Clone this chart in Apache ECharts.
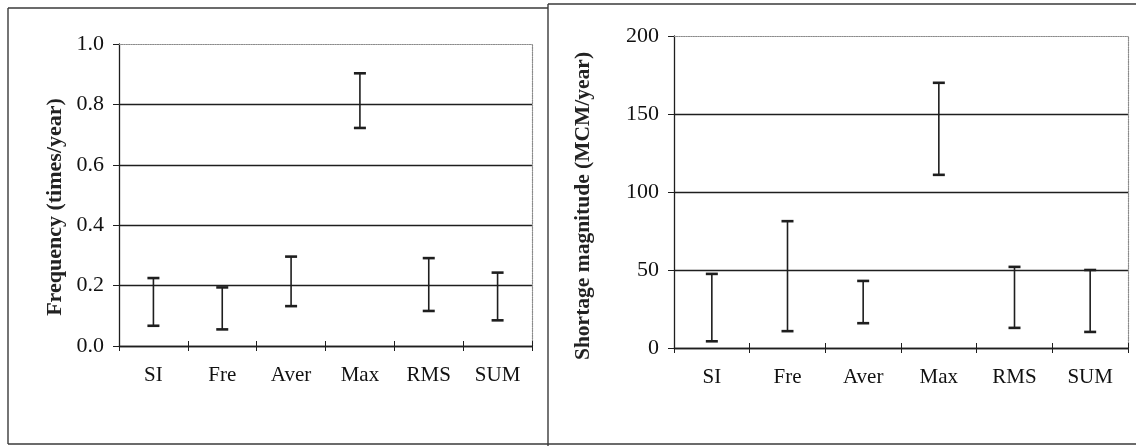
<!DOCTYPE html>
<html>
<head>
<meta charset="utf-8">
<script src="https://cdn.jsdelivr.net/npm/echarts@6/dist/echarts.min.js"></script>
<style>html,body{margin:0;padding:0;background:#fff;}#c{width:1136px;height:446px;}</style>
</head>
<body>
<div id="c"></div>
<script>
var categories = ['SI', 'Fre', 'Aver', 'Max', 'RMS', 'SUM'];
var freqLow  = [0.067, 0.055, 0.132, 0.722, 0.116, 0.085];
var freqHigh = [0.225, 0.194, 0.296, 0.903, 0.291, 0.243];
var magLow   = [4.3, 10.8, 15.9, 111, 12.9, 10.3];
var magHigh  = [47.5, 81.3, 43, 170, 52, 50];
var freqTicks = { min: 0, max: 1.0, interval: 0.2 };
var magTicks  = { min: 0, max: 200, interval: 50 };

var FONT = 'Liberation Serif';
var INK = '#1e1e1e';

function errData(lo, hi) {
  return categories.map(function (c, i) { return [i, lo[i], hi[i]]; });
}
function renderErr(params, api) {
  var x = api.value(0);
  var lo = api.coord([x, api.value(1)]);
  var hi = api.coord([x, api.value(2)]);
  var hw = 6;
  return {
    type: 'group',
    children: [
      { type: 'line', shape: { x1: lo[0], y1: lo[1], x2: hi[0], y2: hi[1] }, style: { stroke: INK, lineWidth: 1.6 } },
      { type: 'line', shape: { x1: hi[0] - hw, y1: hi[1], x2: hi[0] + hw, y2: hi[1] }, style: { stroke: INK, lineWidth: 2.6 } },
      { type: 'line', shape: { x1: lo[0] - hw, y1: lo[1], x2: lo[0] + hw, y2: lo[1] }, style: { stroke: INK, lineWidth: 2.6 } }
    ]
  };
}

function xAxes(gi) {
  return [
    { type: 'category', gridIndex: gi, data: categories, position: 'bottom',
      axisLine: { lineStyle: { color: INK, width: 1.3 } },
      axisTick: { show: true, inside: false, length: 5, lineStyle: { color: INK } },
      axisLabel: { fontFamily: FONT, fontSize: 21, color: '#111', margin: 19 } },
    { type: 'category', gridIndex: gi, data: categories, position: 'bottom',
      axisLine: { show: false },
      axisTick: { show: true, inside: true, length: 5, lineStyle: { color: INK } },
      axisLabel: { show: false } },
    { type: 'category', gridIndex: gi, data: categories, position: 'top',
      axisLine: { show: true, lineStyle: { color: '#8a8a8a', type: 'dotted', width: 1.2 } },
      axisTick: { show: false }, axisLabel: { show: false } }
  ];
}
function yAxes(gi, t, name, gap, shift, fsize, fmt, splitColors) {
  return [
    { type: 'value', gridIndex: gi, min: t.min, max: t.max, interval: t.interval, position: 'left',
      name: name, nameLocation: 'middle', nameGap: gap, nameRotate: 90,
      nameTextStyle: { fontFamily: FONT, fontSize: fsize, fontWeight: 'bold', color: '#222', padding: [0, shift, 0, 0] },
      axisLine: { show: true, lineStyle: { color: INK, width: 1.3 } },
      axisTick: { show: true, inside: false, length: 6, lineStyle: { color: INK } },
      axisLabel: { fontFamily: FONT, fontSize: 22, color: '#111', margin: 15, formatter: fmt },
      splitLine: { show: true, lineStyle: { color: splitColors, width: 1.3 } } },
    { type: 'value', gridIndex: gi, min: t.min, max: t.max, interval: t.interval, position: 'right',
      axisLine: { show: true, lineStyle: { color: '#8a8a8a', type: 'dotted', width: 1.2 } },
      axisTick: { show: false }, axisLabel: { show: false }, splitLine: { show: false } }
  ];
}

var chart = echarts.init(document.getElementById('c'), null, { renderer: 'canvas' });
var frame = { stroke: '#3a3a3a', lineWidth: 1.4 };
chart.setOption({
  backgroundColor: '#fff',
  animation: false,
  grid: [
    { left: 119, right: 604, top: 44, bottom: 100 },
    { left: 674, right: 8, top: 36, bottom: 98 }
  ],
  xAxis: xAxes(0).concat(xAxes(1)),
  yAxis: yAxes(0, freqTicks, 'Frequency (times/year)', 53, 24, 22, function (v) { return v.toFixed(1); },
               [INK, INK, INK, INK, INK, 'rgba(0,0,0,0)'])
    .concat(yAxes(1, magTicks, 'Shortage magnitude (MCM/year)', 80, 28, 21.5, function (v) { return String(v); },
               [INK, INK, INK, INK, 'rgba(0,0,0,0)'])),
  series: [
    { type: 'custom', xAxisIndex: 0, yAxisIndex: 0, data: errData(freqLow, freqHigh), renderItem: renderErr, encode: { x: 0, y: [1, 2] } },
    { type: 'custom', xAxisIndex: 3, yAxisIndex: 2, data: errData(magLow, magHigh), renderItem: renderErr, encode: { x: 0, y: [1, 2] } }
  ],
  graphic: [
    { type: 'line', shape: { x1: 8, y1: 8, x2: 548, y2: 8 }, style: frame, silent: true },
    { type: 'line', shape: { x1: 8, y1: 8, x2: 8, y2: 444 }, style: frame, silent: true },
    { type: 'line', shape: { x1: 548, y1: 4, x2: 548, y2: 446 }, style: frame, silent: true },
    { type: 'line', shape: { x1: 548, y1: 4, x2: 1136, y2: 4 }, style: frame, silent: true },
    { type: 'line', shape: { x1: 8, y1: 444, x2: 1136, y2: 444 }, style: frame, silent: true }
  ]
});
</script>
</body>
</html>
